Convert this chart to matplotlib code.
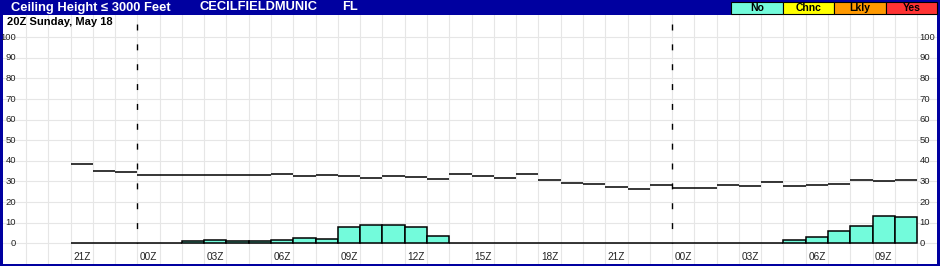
import numpy as np
import matplotlib
matplotlib.use('Agg')
import matplotlib.pyplot as plt
from matplotlib.patches import Rectangle

plt.rcParams['font.family'] = ['Liberation Sans', 'DejaVu Sans']

# hourly columns, 21Z sunday -> 10Z
hours = [21, 22, 23, 0, 1, 2, 3, 4, 5, 6, 7, 8, 9, 10, 11, 12, 13, 14, 15,
         16, 17, 18, 19, 20, 21, 22, 23, 0, 1, 2, 3, 4, 5, 6, 7, 8, 9, 10]
# black step line
ceiling = [38.3, 35.0, 34.5, 33.2, 33.2, 33.2, 33.2, 33.2, 33.2, 33.5,
           32.6, 33.2, 32.5, 31.5, 32.5, 32.0, 31.1, 33.6, 32.7, 31.5,
           33.6, 30.6, 29.3, 28.6, 27.2, 26.2, 28.2, 26.7, 26.7, 28.2,
           27.7, 29.6, 27.7, 28.2, 28.8, 30.6, 30.1, 30.6]
# cyan bars
prob = [0, 0, 0, 0, 0, 1.0, 1.6, 1.0, 1.0, 1.6,
        2.4, 2.3, 8.1, 8.7, 8.7, 7.8, 3.4, 0, 0, 0,
        0, 0, 0, 0, 0, 0, 0, 0, 0, 0,
        0, 0, 1.5, 2.9, 5.8, 8.3, 13.1, 12.6]
yticks = [0, 10, 20, 30, 40, 50, 60, 70, 80, 90, 100]
legend_names = ['No', 'Chnc', 'Lkly', 'Yes']
legend_colors = ['#73fbdb', '#ffff00', '#ff9900', '#ff3333']

title = 'Ceiling Height \u2264 3000 Feet'
station = 'CECILFIELDMUNIC'
state = 'FL'
start_text = '20Z Sunday, May 18'

W, H = 940, 266
blue = '#0000a0'
fig = plt.figure(figsize=(W / 100, H / 100), dpi=100, facecolor=blue)
ax = fig.add_axes([3 / W, 2 / H, 934 / W, 249 / H])
ax.set_facecolor('white')
for s in ax.spines.values():
    s.set_visible(False)

n = len(hours)
x = np.arange(n)
lead = 2  # empty columns before data
ax.set_xlim(-lead - 1.03, n + 0.89)
ax.set_ylim(-10.05, 110.8)

# grid
ax.set_xticks(np.arange(-lead, n + 1))
ax.set_yticks(yticks)
ax.tick_params(length=0, labelbottom=False, labelleft=False)
ax.grid(True, color='#e6e6e6', linewidth=0.8)
ax.set_axisbelow(True)

ax.bar(x, prob, width=1, align='edge', color=legend_colors[0],
       edgecolor='black', linewidth=1.1, zorder=3)
ax.hlines(ceiling, x, x + 1, color='black', linewidth=1.1, zorder=3)

# day boundaries
for i, h in enumerate(hours):
    if h == 0:
        ax.plot([i, i], [106.5, 0], color='black', linewidth=1.0,
                dashes=(4.3, 10), zorder=4)

# tick labels drawn inside the frame
for v in yticks:
    ax.text(-lead - 0.45, v, str(v), ha='right', va='center', fontsize=6.8, color='#222222')
    ax.text(n + 0.1, v, str(v), ha='left', va='center', fontsize=6.8, color='#222222')
for i, h in enumerate(hours):
    if h % 3 == 0:
        ax.text(i + 0.5, -6.5, '%02dZ' % h, ha='center', va='center', fontsize=7.2, color='#222222')

ax.text(4 / 934, 1 - 2 / 249, start_text, transform=ax.transAxes, ha='left', va='top',
        fontsize=8, fontweight='bold')

# title bar
ty = 1 - 7.5 / H
fig.text(11 / W, ty, title, color='white', fontsize=9.3, fontweight='bold', va='center')
fig.text(199 / W, ty, station, color='white', fontsize=9.3, fontweight='bold', va='center')
fig.text(342 / W, ty, state, color='white', fontsize=9.3, fontweight='bold', va='center')

# legend boxes
bx, bw = 731, 51.5
for k, (name, c) in enumerate(zip(legend_names, legend_colors)):
    x0 = bx + k * bw
    fig.patches.append(Rectangle((x0 / W, 1 - 13.5 / H), bw / W, 11.5 / H,
                                 transform=fig.transFigure, facecolor=c,
                                 edgecolor='black', linewidth=0.8))
    fig.text((x0 + bw / 2) / W, 1 - 7.8 / H, name, ha='center', va='center',
             fontsize=7.5, fontweight='bold', color='black')

fig.savefig('out.png', dpi=100, facecolor=blue)
